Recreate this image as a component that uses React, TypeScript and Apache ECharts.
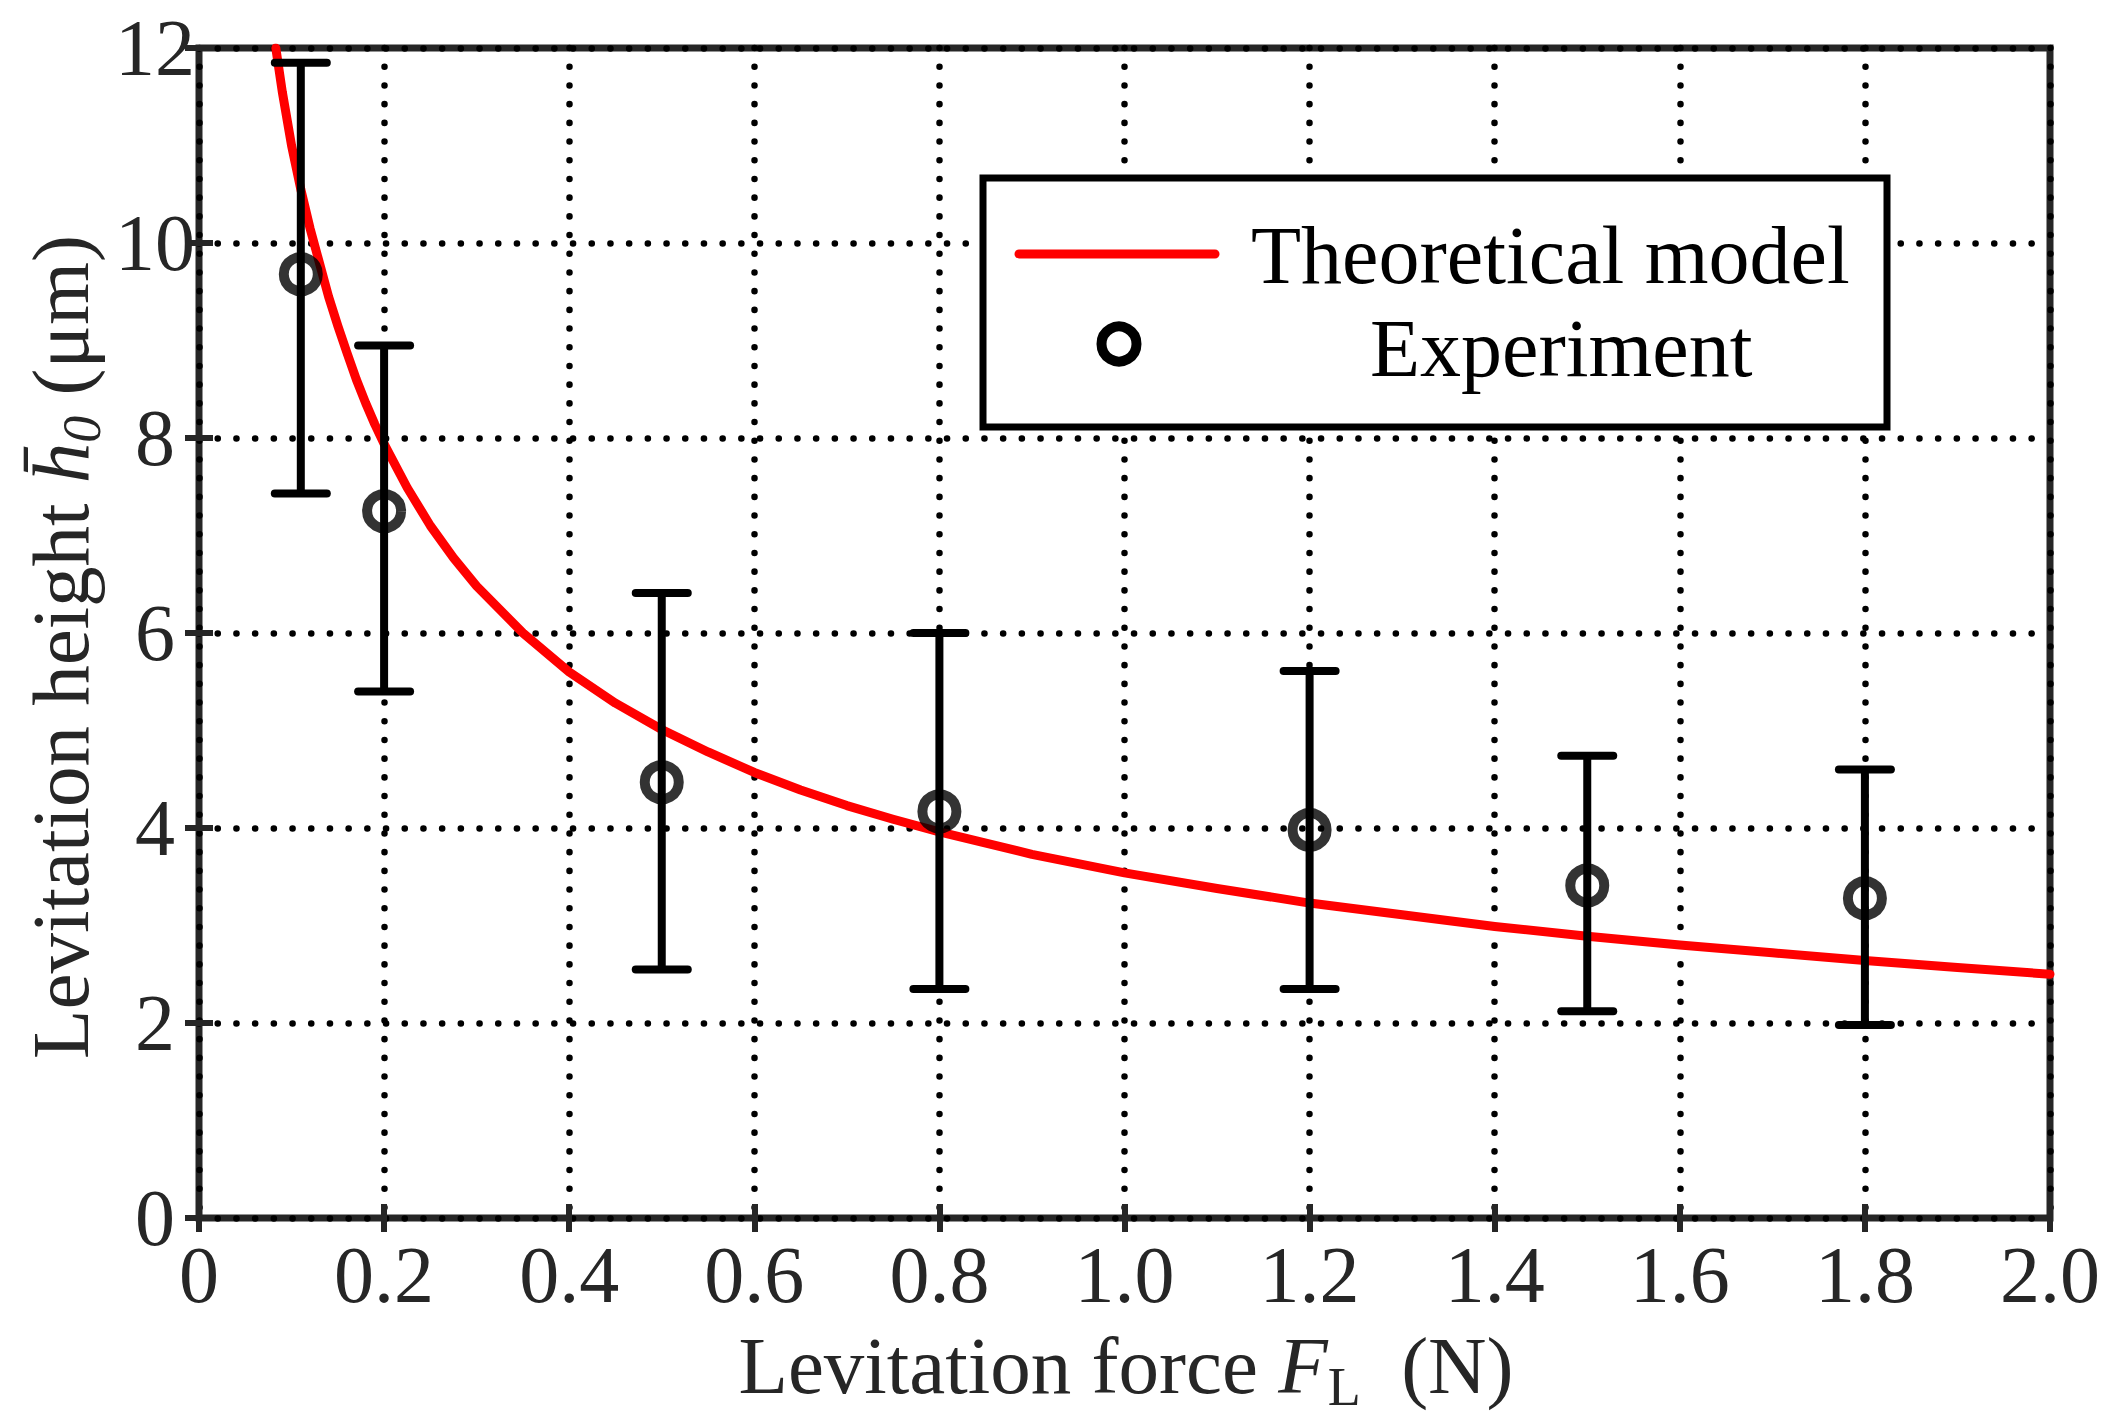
import React, { useEffect, useRef } from "react";
import * as echarts from "echarts";

// ---- Data ----
const modelForce = [0.083, 0.09, 0.1, 0.11, 0.12, 0.13, 0.14, 0.15, 0.16, 0.17, 0.18, 0.19, 0.2, 0.225, 0.25, 0.275, 0.3, 0.35, 0.4, 0.45, 0.5, 0.55, 0.6, 0.65, 0.7, 0.75, 0.8, 0.9, 1.0, 1.1, 1.2, 1.3, 1.4, 1.5, 1.6, 1.7, 1.8, 1.9, 2.0];
const modelHeight = [12.0, 11.55, 11.0, 10.55, 10.15, 9.8, 9.45, 9.15, 8.87, 8.6, 8.36, 8.14, 7.94, 7.49, 7.1, 6.77, 6.48, 6.0, 5.6, 5.28, 5.01, 4.78, 4.57, 4.39, 4.23, 4.09, 3.96, 3.73, 3.54, 3.38, 3.23, 3.11, 2.99, 2.89, 2.8, 2.72, 2.64, 2.57, 2.5];

const expForce = [0.11, 0.2, 0.5, 0.8, 1.2, 1.5, 1.8];
const expHeight = [9.68, 7.25, 4.47, 4.17, 3.98, 3.41, 3.28];
const expUpper = [11.85, 8.95, 6.41, 6.0, 5.61, 4.74, 4.6];
const expLower = [7.43, 5.4, 2.55, 2.35, 2.35, 2.12, 1.98];

const xTickLabels = ["0", "0.2", "0.4", "0.6", "0.8", "1.0", "1.2", "1.4", "1.6", "1.8", "2.0"];
const yTickLabels = ["0", "2", "4", "6", "8", "10", "12"];

const legendNames = ["Theoretical model", "Experiment"];

const FONT = "'Liberation Serif', 'Times New Roman', Times, serif";
const AXIS_COLOR = "#262626";

export default function App() {
  const ref = useRef<HTMLDivElement>(null);

  useEffect(() => {
    if (!ref.current) return;
    const chart = echarts.init(ref.current, null, { renderer: "svg" });

    const modelData = modelForce.map((f, i) => [f, modelHeight[i]]);
    const expData = expForce.map((f, i) => [f, expHeight[i]]);
    const errData = expForce.map((f, i) => [f, expLower[i], expUpper[i]]);

    const gridDots = {
      show: true,
      lineStyle: { color: "#000", width: 6.5, type: [0.1, 18.6], cap: "round" },
    };
    const tickStyle = { show: true, inside: true, length: 14, lineStyle: { color: AXIS_COLOR, width: 6 } };

    const option: any = {
      animation: false,
      backgroundColor: "#ffffff",
      grid: {
        left: 199,
        right: 71,
        top: 48,
        bottom: 205,
        show: true,
        borderColor: AXIS_COLOR,
        borderWidth: 7,
        backgroundColor: "transparent",
        outerBoundsMode: "none",
      },
      xAxis: [
        {
          type: "value",
          min: 0,
          max: 2,
          interval: 0.2,
          position: "bottom",
          axisLine: { show: false },
          axisTick: tickStyle,
          axisLabel: {
            fontFamily: FONT,
            fontSize: 80,
            lineHeight: 56,
            color: AXIS_COLOR,
            margin: 29,
            formatter: (v: number) => xTickLabels[Math.round(v / 0.2)],
          },
          splitLine: gridDots,
        },
        {
          type: "value",
          min: 0,
          max: 2,
          interval: 0.2,
          position: "top",
          axisLine: { show: false },
          axisTick: tickStyle,
          axisLabel: { show: false },
          splitLine: { show: false },
        },
      ],
      yAxis: [
        {
          type: "value",
          min: 0,
          max: 12,
          interval: 2,
          position: "left",
          axisLine: { show: false },
          axisTick: tickStyle,
          axisLabel: {
            fontFamily: FONT,
            fontSize: 80,
            lineHeight: 56,
            color: AXIS_COLOR,
            align: "center",
            margin: 44,
            formatter: (v: number) => yTickLabels[Math.round(v / 2)],
          },
          splitLine: gridDots,
        },
        {
          type: "value",
          min: 0,
          max: 12,
          interval: 2,
          position: "right",
          axisLine: { show: false },
          axisTick: tickStyle,
          axisLabel: { show: false },
          splitLine: { show: false },
        },
      ],
      series: [
        {
          name: legendNames[0],
          type: "line",
          data: modelData,
          showSymbol: false,
          smooth: false,
          lineStyle: { color: "#ff0000", width: 9, cap: "round", join: "round" },
          z: 3,
        },
        {
          type: "custom",
          data: errData,
          encode: { x: 0, y: [1, 2] },
          z: 4,
          renderItem: (params: any, api: any) => {
            const x = api.value(0);
            const pLo = api.coord([x, api.value(1)]);
            const pHi = api.coord([x, api.value(2)]);
            const hw = 26;
            const st = { stroke: "#000", lineWidth: 8, lineCap: "round" };
            return {
              type: "group",
              children: [
                { type: "line", shape: { x1: pLo[0], y1: pLo[1], x2: pHi[0], y2: pHi[1] }, style: { stroke: "#000", lineWidth: 8 } },
                { type: "line", shape: { x1: pLo[0] - hw, y1: pLo[1], x2: pLo[0] + hw, y2: pLo[1] }, style: st },
                { type: "line", shape: { x1: pHi[0] - hw, y1: pHi[1], x2: pHi[0] + hw, y2: pHi[1] }, style: st },
              ],
            };
          },
        },
        {
          name: legendNames[1],
          type: "scatter",
          data: expData,
          symbol: "circle",
          symbolSize: 34,
          itemStyle: { color: "rgba(0,0,0,0)", borderColor: "#000", borderWidth: 10 },
          z: 5,
        },
      ],
      graphic: [
        // legend box
        {
          type: "rect",
          z: 100,
          shape: { x: 983, y: 178, width: 904, height: 249 },
          style: { fill: "#fff", stroke: "#000", lineWidth: 7 },
        },
        {
          type: "line",
          z: 101,
          shape: { x1: 1019, y1: 254, x2: 1215, y2: 254 },
          style: { stroke: "#ff0000", lineWidth: 9, lineCap: "round" },
        },
        {
          type: "circle",
          z: 101,
          shape: { cx: 1119, cy: 344, r: 17.5 },
          style: { fill: "rgba(0,0,0,0)", stroke: "#000", lineWidth: 10 },
        },
        {
          type: "text",
          z: 101,
          x: 1251,
          y: 255,
          style: {
            text: legendNames[0],
            fontFamily: FONT,
            fontSize: 82,
            fill: "#000",
            align: "left",
            verticalAlign: "middle",
          },
        },
        {
          type: "text",
          z: 101,
          x: 1370,
          y: 348,
          style: {
            text: legendNames[1],
            fontFamily: FONT,
            fontSize: 82,
            fill: "#000",
            align: "left",
            verticalAlign: "middle",
          },
        },
        // x-axis title
        {
          type: "text",
          z: 101,
          x: 1126,
          y: 1366,
          style: {
            text: "{n|Levitation force }{i|F}{s|L}{n|\u2002(N)}",
            fontFamily: FONT,
            fontSize: 81,
            fill: AXIS_COLOR,
            align: "center",
            verticalAlign: "middle",
            rich: {
              n: { fontFamily: FONT, fontSize: 81, lineHeight: 96, fill: AXIS_COLOR },
              i: { fontFamily: FONT, fontSize: 81, fontStyle: "italic", lineHeight: 96, fill: AXIS_COLOR },
              s: { fontFamily: FONT, fontSize: 54, lineHeight: 56, verticalAlign: "bottom", fill: AXIS_COLOR },
            },
          },
        },
        // y-axis title
        {
          type: "text",
          z: 101,
          x: 61,
          y: 647,
          rotation: Math.PI / 2,
          style: {
            text: "{n|Levitation height }{i|h\u0304}{s|0}{n| (\u03bcm)}",
            fontFamily: FONT,
            fontSize: 81,
            fill: AXIS_COLOR,
            align: "center",
            verticalAlign: "middle",
            rich: {
              n: { fontFamily: FONT, fontSize: 81, lineHeight: 96, fill: AXIS_COLOR },
              i: { fontFamily: FONT, fontSize: 81, fontStyle: "italic", lineHeight: 96, fill: AXIS_COLOR },
              s: { fontFamily: FONT, fontSize: 54, fontStyle: "italic", lineHeight: 56, verticalAlign: "bottom", fill: AXIS_COLOR },
            },
          },
        },
      ],
    };

    chart.setOption(option);
    return () => chart.dispose();
  }, []);

  return (
    <div
      ref={ref}
      style={{ position: "fixed", left: 0, top: 0, width: 2121, height: 1423, background: "#fff" }}
    />
  );
}
